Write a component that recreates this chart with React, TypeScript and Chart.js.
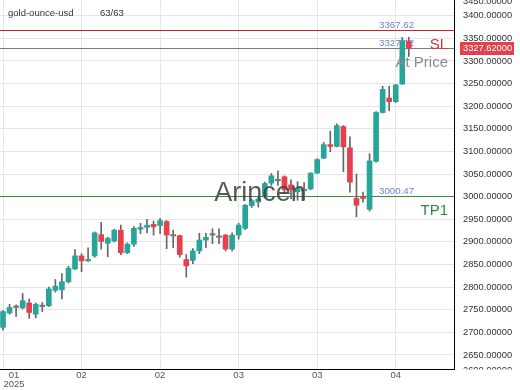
import React, { useEffect, useRef } from 'react';
import { Chart, registerables } from 'chart.js';

Chart.register(...registerables);

const SYMBOL = 'gold-ounce-usd';
const COUNT_LABEL = '63/63';

const OPEN = [2711, 2743, 2755, 2754, 2765, 2740, 2757, 2759, 2793, 2794,
  2812, 2840, 2869, 2858, 2869, 2916, 2897, 2902, 2926, 2876,
  2895, 2928, 2932, 2939, 2936, 2945, 2915, 2914, 2861, 2859,
  2880, 2904, 2915, 2912, 2915, 2884, 2915, 2930, 2980, 2988,
  2999, 3030, 3037, 3044, 3026, 3011, 3013, 3017, 3052, 3085,
  3115, 3111, 3155, 3108, 2996, 2999, 2972, 3078, 3186, 3218,
  3210, 3249, 3343];
const HIGH = [2748, 2762, 2761, 2786, 2774, 2765, 2766, 2800, 2817, 2830,
  2846, 2883, 2874, 2887, 2922, 2943, 2910, 2928, 2937, 2898,
  2934, 2941, 2950, 2946, 2952, 2947, 2926, 2915, 2872, 2885,
  2919, 2919, 2929, 2929, 2917, 2920, 2941, 2983, 2994, 3000,
  3032, 3051, 3057, 3046, 3037, 3033, 3031, 3053, 3084, 3120,
  3145, 3161, 3157, 3132, 3050, 3010, 3095, 3188, 3244, 3244,
  3248, 3352, 3352];
const LOW = [2705, 2740, 2735, 2752, 2731, 2732, 2746, 2757, 2789, 2774,
  2809, 2839, 2834, 2857, 2866, 2884, 2867, 2900, 2872, 2874,
  2890, 2918, 2920, 2915, 2918, 2885, 2887, 2866, 2822, 2852,
  2874, 2887, 2896, 2896, 2880, 2880, 2906, 2927, 2976, 2977,
  2997, 3025, 3025, 3007, 2995, 2992, 2992, 3015, 3051, 3084,
  3099, 3110, 3055, 3010, 2955, 2988, 2968, 3076, 3185, 3190,
  3208, 3248, 3310];
const CLOSE = [2746, 2755, 2757, 2770, 2744, 2762, 2759, 2796, 2802, 2812,
  2842, 2869, 2858, 2861, 2920, 2901, 2908, 2926, 2876, 2895,
  2930, 2932, 2937, 2933, 2947, 2915, 2913, 2872, 2847, 2880,
  2904, 2910, 2917, 2910, 2884, 2915, 2937, 2981, 2991, 2995,
  3029, 3046, 3035, 3015, 3015, 3018, 3015, 3052, 3082, 3115,
  3111, 3157, 3110, 3032, 2981, 2996, 3079, 3186, 3237, 3210,
  3247, 3345, 3327.62];

const X_TICK_INDEX = [0, 12, 24, 36, 48, 60];
const X_TICK_LABELS = [['01', '2025'], ['02'], ['02'], ['03'], ['03'], ['04']];
const Y_TICKS = [2650, 2700, 2750, 2800, 2850, 2900, 2950, 3000, 3050, 3100, 3150, 3200, 3250, 3300, 3350, 3400];
const Y_EDGE_LABELS = [3450, 2600];

const SL = 3367.62;
const CURRENT = 3327.62;
const TP1 = 3000.47;

const Y_MIN = 2619;
const Y_MAX = 3434.7;
const X_MIN = -0.46;
const X_MAX = 68.9;

const FONT = '"Liberation Sans", Arial, sans-serif';
const GREEN = '#26a69a';
const RED = '#e5404b';
const DOJI = '#777777';

const overlay = {
  id: 'overlay',
  beforeDatasetsDraw(chart: any) {
    const { ctx, chartArea: a } = chart;
    const y = chart.scales.y;
    ctx.save();
    ctx.beginPath();
    ctx.rect(a.left, a.top, a.right - a.left, a.bottom - a.top);
    ctx.clip();
    const hline = (v: number, color: string) => {
      const py = Math.round(y.getPixelForValue(v)) + 0.5;
      ctx.strokeStyle = color;
      ctx.lineWidth = 1;
      ctx.beginPath();
      ctx.moveTo(a.left, py);
      ctx.lineTo(a.right, py);
      ctx.stroke();
    };
    hline(SL, '#c0272d');
    hline(CURRENT, '#7a7a7a');
    hline(TP1, '#3f8a3a');
    ctx.font = `9.7px ${FONT}`;
    ctx.fillStyle = '#6d82cf';
    ctx.textAlign = 'left';
    ctx.textBaseline = 'middle';
    [SL, CURRENT, TP1].forEach((v) => {
      ctx.fillText(v.toFixed(2), 379, y.getPixelForValue(v) - 5);
    });
    ctx.restore();
  },
  afterDatasetsDraw(chart: any) {
    const { ctx } = chart;
    const y = chart.scales.y;
    ctx.save();
    ctx.font = `27px ${FONT}`;
    ctx.fillStyle = 'rgba(60,60,60,0.85)';
    ctx.textAlign = 'center';
    ctx.textBaseline = 'middle';
    ctx.fillText('Arincen', 260, 194);

    ctx.font = `15px ${FONT}`;
    ctx.textAlign = 'right';
    ctx.fillStyle = '#d62f3a';
    ctx.fillText('SL', 448, y.getPixelForValue(SL) + 15);
    ctx.fillStyle = '#8a8a8a';
    ctx.fillText('At Price', 448, y.getPixelForValue(CURRENT) + 14);
    ctx.fillStyle = '#2f8a3a';
    ctx.fillText('TP1', 448, y.getPixelForValue(TP1) + 14);
    ctx.restore();
  },
  afterDraw(chart: any) {
    const { ctx, chartArea: a } = chart;
    const y = chart.scales.y;
    const x = chart.scales.x;
    ctx.save();
    // header
    ctx.font = `9.5px ${FONT}`;
    ctx.fillStyle = '#333';
    ctx.textAlign = 'left';
    ctx.textBaseline = 'middle';
    ctx.fillText(SYMBOL, 8, 13);
    ctx.fillText(COUNT_LABEL, 100, 13);

    // x labels
    ctx.fillStyle = '#555';
    ctx.textAlign = 'center';
    X_TICK_INDEX.forEach((idx, k) => {
      let px = x.getPixelForValue(idx);
      if (k === 0) px = 14;
      X_TICK_LABELS[k].forEach((line, j) => {
        ctx.fillText(line, px, 375.5 + j * 9);
      });
    });

    // clipped edge labels on y axis
    ctx.save();
    ctx.beginPath();
    ctx.rect(a.right + 1, 0, 70, a.bottom + 0.5);
    ctx.clip();
    ctx.font = `9.3px ${FONT}`;
    ctx.fillStyle = '#333';
    ctx.textAlign = 'left';
    ctx.fillText(Y_EDGE_LABELS[0].toFixed(5), a.right + 9, 1);
    ctx.fillText(Y_EDGE_LABELS[1].toFixed(5), a.right + 9, 370.5);
    ctx.restore();

    // current price box
    const py = Math.round(y.getPixelForValue(CURRENT));
    ctx.fillStyle = '#e2404d';
    ctx.fillRect(a.right + 6, py - 6, 54, 13);
    ctx.fillStyle = '#fff';
    ctx.font = `9.3px ${FONT}`;
    ctx.textAlign = 'left';
    ctx.fillText(CURRENT.toFixed(5), a.right + 9, py + 0.5);
    ctx.restore();
  },
};

export default function App() {
  const ref = useRef<HTMLCanvasElement | null>(null);

  useEffect(() => {
    document.body.style.margin = '0';
    const idx = OPEN.map((_, i) => i);
    const bodyColors = idx.map((i) =>
      Math.abs(CLOSE[i] - OPEN[i]) <= 2.5 ? DOJI : CLOSE[i] >= OPEN[i] ? GREEN : RED
    );
    const chart = new Chart(ref.current as HTMLCanvasElement, {
      type: 'bar',
      data: {
        datasets: [
          {
            label: 'body',
            data: idx.map((i) => ({ x: i, y: [OPEN[i], CLOSE[i]] })) as any,
            backgroundColor: bodyColors,
            barThickness: 5,
            minBarLength: 1.5,
            grouped: false,
            borderWidth: 0,
          } as any,
          {
            label: 'wick',
            data: idx.map((i) => ({ x: i, y: [LOW[i], HIGH[i]] })) as any,
            backgroundColor: '#666666',
            barThickness: 1,
            grouped: false,
            borderWidth: 0,
          } as any,
        ],
      },
      options: {
        animation: false,
        responsive: false,
        maintainAspectRatio: false,
        layout: { padding: 0 },
        plugins: { legend: { display: false }, tooltip: { enabled: false } },
        scales: {
          x: {
            type: 'linear',
            min: X_MIN,
            max: X_MAX,
            offset: false,
            grid: { color: '#e6e6e6', drawTicks: false, offset: false },
            border: { display: true, color: '#000', width: 1 },
            ticks: { display: false },
            afterBuildTicks: (s: any) => {
              s.ticks = X_TICK_INDEX.map((v) => ({ value: v }));
            },
            afterFit: (s: any) => {
              s.height = 21;
              s.paddingLeft = 0;
              s.paddingRight = 0;
            },
          },
          y: {
            type: 'linear',
            position: 'right',
            min: Y_MIN,
            max: Y_MAX,
            beginAtZero: false,
            grid: { color: '#e6e6e6', drawTicks: false },
            border: { display: true, color: '#000', width: 1 },
            ticks: {
              padding: 9,
              color: '#333',
              font: { family: FONT, size: 9.3 },
              callback: (v: any) => Number(v).toFixed(5),
            },
            afterBuildTicks: (s: any) => {
              s.ticks = Y_TICKS.map((v) => ({ value: v }));
            },
            afterFit: (s: any) => {
              s.width = 66;
              s.paddingTop = 0;
              s.paddingBottom = 0;
            },
          },
        },
      } as any,
      plugins: [overlay],
    });
    return () => chart.destroy();
  }, []);

  return (
    <div style={{ position: 'absolute', left: 0, top: 0, width: 520, height: 390 }}>
      <canvas ref={ref} width={520} height={390} />
    </div>
  );
}
